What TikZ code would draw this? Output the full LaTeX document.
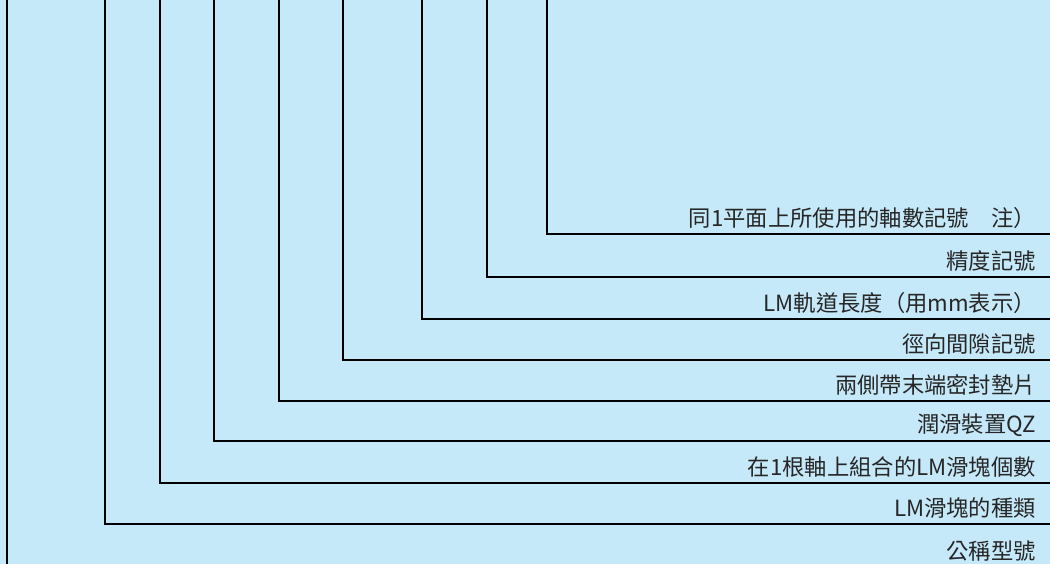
\documentclass[tikz,border=0pt]{standalone}
\usepackage{fontspec}
\setmainfont{Noto Sans CJK TC}
\definecolor{bgblue}{RGB}{198,233,250}
\begin{document}
\begin{tikzpicture}[x=1pt,y=1pt,
  lead/.style={draw=black,line width=1.1pt},
  lbl/.style={anchor=east,inner sep=0pt,font=\fontsize{22.3}{24}\selectfont,text=black!85}]
\fill[bgblue] (0,0) rectangle (1050,564);
\useasboundingbox (0,0) rectangle (1050,564);
% tops of leader lines
\coordinate (t1) at (547,564);
\coordinate (t2) at (487,564);
\coordinate (t3) at (422,564);
\coordinate (t4) at (343,564);
\coordinate (t5) at (279,564);
\coordinate (t6) at (214,564);
\coordinate (t7) at (160,564);
\coordinate (t8) at (105,564);
\coordinate (t9) at (7,564);
% right ends
\coordinate (e1) at (1050,330);
\coordinate (e2) at (1050,287);
\coordinate (e3) at (1050,245);
\coordinate (e4) at (1050,204);
\coordinate (e5) at (1050,163);
\coordinate (e6) at (1050,123);
\coordinate (e7) at (1050,81);
\coordinate (e8) at (1050,40);
\coordinate (e9) at (7,0);
% labels
\node[lbl] (l1) at (1036,346) {同1平面上所使用的軸數記號　注）};
\node[lbl] (l2) at (1036,303) {精度記號};
\node[lbl] (l3) at (1036,261) {LM軌道長度（用mm表示）};
\node[lbl] (l4) at (1036,220) {徑向間隙記號};
\node[lbl] (l5) at (1036,179) {兩側帶末端密封墊片};
\node[lbl] (l6) at (1036,139) {潤滑裝置QZ};
\node[lbl] (l7) at (1036,97) {在1根軸上組合的LM滑塊個數};
\node[lbl] (l8) at (1036,56) {LM滑塊的種類};
\node[lbl] (l9) at (1036,13) {公稱型號};
% leaders
\foreach \i in {1,...,8} {\draw[lead] (t\i) |- (e\i);}
\draw[lead] (t9) -- (e9);
\end{tikzpicture}
\end{document}
